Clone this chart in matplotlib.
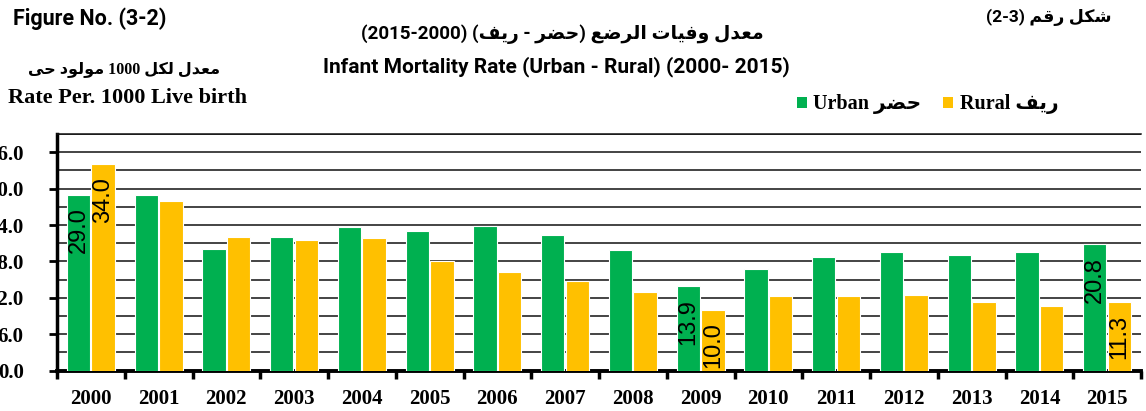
import matplotlib
matplotlib.use("Agg")
import matplotlib.pyplot as plt
import numpy as np
from matplotlib.patches import Patch

years = [str(y) for y in range(2000, 2016)]
urban = [29.0, 29.0, 20.0, 22.0, 23.7, 23.0, 23.9, 22.3, 19.9, 13.9, 16.7, 18.7, 19.6, 19.0, 19.5, 20.8]
rural = [34.0, 28.0, 22.0, 21.5, 21.8, 18.1, 16.3, 14.8, 13.0, 10.0, 12.3, 12.3, 12.4, 11.3, 10.6, 11.3]
labelled = ["2000", "2009", "2015"]
y_ticks = [0, 6, 12, 18, 24, 30, 36]

green = "#00B050"
yellow = "#FFC000"

# arabic presentation forms: isolated, final, initial, medial
FORMS = {
    "ا": ("\uFE8D", "\uFE8E", None, None),
    "ت": ("\uFE95", "\uFE96", "\uFE97", "\uFE98"),
    "ح": ("\uFEA1", "\uFEA2", "\uFEA3", "\uFEA4"),
    "د": ("\uFEA9", "\uFEAA", None, None),
    "ر": ("\uFEAD", "\uFEAE", None, None),
    "ش": ("\uFEB5", "\uFEB6", "\uFEB7", "\uFEB8"),
    "ض": ("\uFEBD", "\uFEBE", "\uFEBF", "\uFEC0"),
    "ع": ("\uFEC9", "\uFECA", "\uFECB", "\uFECC"),
    "ف": ("\uFED1", "\uFED2", "\uFED3", "\uFED4"),
    "ق": ("\uFED5", "\uFED6", "\uFED7", "\uFED8"),
    "ك": ("\uFED9", "\uFEDA", "\uFEDB", "\uFEDC"),
    "ل": ("\uFEDD", "\uFEDE", "\uFEDF", "\uFEE0"),
    "م": ("\uFEE1", "\uFEE2", "\uFEE3", "\uFEE4"),
    "و": ("\uFEED", "\uFEEE", None, None),
    "ى": ("\uFEEF", "\uFEF0", None, None),
    "ي": ("\uFEF1", "\uFEF2", "\uFEF3", "\uFEF4"),
}
MIRROR = {"(": ")", ")": "("}


def shape(word):
    out = []
    for i, c in enumerate(word):
        if c not in FORMS:
            out.append(c)
            continue
        prev = word[i - 1] if i > 0 else None
        nxt = word[i + 1] if i + 1 < len(word) else None
        jp = prev in FORMS and FORMS[prev][2] is not None
        jn = nxt in FORMS and FORMS[c][2] is not None
        f = FORMS[c]
        if jp and jn:
            out.append(f[3])
        elif jp:
            out.append(f[1])
        elif jn:
            out.append(f[2])
        else:
            out.append(f[0])
    return "".join(out)


def ar(text):
    # very small bidi: words right to left, number ranges flipped like the source
    vis = []
    for t in text.split(" "):
        if any(ch in FORMS for ch in t):
            s = shape(t)[::-1]
            s = "".join(MIRROR.get(ch, ch) for ch in s)
        elif "-" in t and t.strip("()") != "-":
            inner = t.strip("()")
            s = t.replace(inner, "-".join(inner.split("-")[::-1]))
        else:
            s = t
        vis.append(s)
    return " ".join(vis[::-1])


sans = ["Roboto", "DejaVu Sans"]
serif = ["Liberation Serif", "DejaVu Sans"]

fig = plt.figure(figsize=(11.46, 4.11), dpi=100)
ax = fig.add_axes([57 / 1146, 1 - 370.7 / 411, 1084 / 1146, 236.7 / 411])

x = np.arange(len(years))
w = 0.345
ax.bar(x - 0.183, urban, w, color=green, edgecolor="white", linewidth=0.8, zorder=3)
ax.bar(x + 0.18, rural, w, color=yellow, edgecolor="white", linewidth=0.8, zorder=3)

for i, yr in enumerate(years):
    if yr in labelled:
        for off, v in ((-0.183, urban[i]), (0.18, rural[i])):
            ax.annotate(f"{v:.1f}", (x[i] + off, v), xytext=(0, -9), textcoords="offset points",
                        rotation=90, ha="center", va="top", fontsize=17,
                        family="Liberation Sans", zorder=4)

ax.set_xlim(-0.5, len(years) - 0.5)
ax.set_ylim(0, 39)
ax.set_yticks(y_ticks)
ax.set_yticklabels([f"{v:.1f}" for v in y_ticks], family=serif, fontweight="bold", fontsize=15)
ax.set_yticks(np.arange(0, 40, 3), minor=True)
ax.tick_params(axis="y", which="major", direction="out", length=6, width=2, pad=18)
ax.tick_params(axis="y", which="minor", length=0)
ax.grid(axis="y", which="both", color="#111111", linewidth=1.1, zorder=1)

ax.set_xticks(np.arange(-0.5, len(years), 1))
ax.set_xticklabels([])
ax.set_xticks(x, minor=True)
ax.set_xticklabels(years, minor=True, family=serif, fontweight="bold", fontsize=15)
ax.tick_params(axis="x", which="major", direction="out", length=6, width=2.5)
ax.tick_params(axis="x", which="minor", length=0, pad=13)

ax.spines["right"].set_visible(False)
ax.spines["top"].set_linewidth(1.1)
ax.spines["top"].set_color("#111111")
ax.spines["left"].set_linewidth(2.5)
ax.spines["bottom"].set_linewidth(2.8)
ax.set_axisbelow(True)

# titles
fig.text(13 / 1146, 1 - 19 / 411, "Figure No. (3-2)", family=sans, fontweight="bold",
         fontsize=15.5, va="center", ha="left")
fig.text(1049 / 1146, 1 - 17 / 411, ar("شكل رقم (3-2)"), family=sans, fontweight="bold",
         fontsize=12.5, va="center", ha="center")
fig.text(562 / 1146, 1 - 34 / 411, ar("معدل وفيات الرضع (حضر - ريف) (2000-2015)"),
         family=sans, fontweight="bold", fontsize=13.5, va="center", ha="center")
fig.text(556 / 1146, 1 - 67 / 411, "Infant Mortality Rate (Urban - Rural) (2000- 2015)",
         family=sans, fontweight="bold", fontsize=15, va="center", ha="center")
fig.text(124 / 1146, 1 - 70 / 411, ar("معدل لكل 1000 مولود حى"), family=serif,
         fontweight="bold", fontsize=11.5, va="center", ha="center")
fig.text(127 / 1146, 1 - 98 / 411, "Rate Per. 1000 Live birth", family=serif,
         fontweight="bold", fontsize=16, va="center", ha="center")

handles = [Patch(facecolor=green, edgecolor="none"), Patch(facecolor=yellow, edgecolor="none")]
fig.legend(handles, ["Urban " + ar("حضر"), "Rural " + ar("ريف")], ncol=2,
           loc="center left", bbox_to_anchor=(797 / 1146, 1 - 104.5 / 411),
           frameon=False, borderpad=0, borderaxespad=0, handlelength=0.5, handleheight=0.5,
           handletextpad=0.3, columnspacing=1.1,
           prop={"family": serif, "weight": "bold", "size": 14.5})

fig.savefig("out.png", dpi=100)
